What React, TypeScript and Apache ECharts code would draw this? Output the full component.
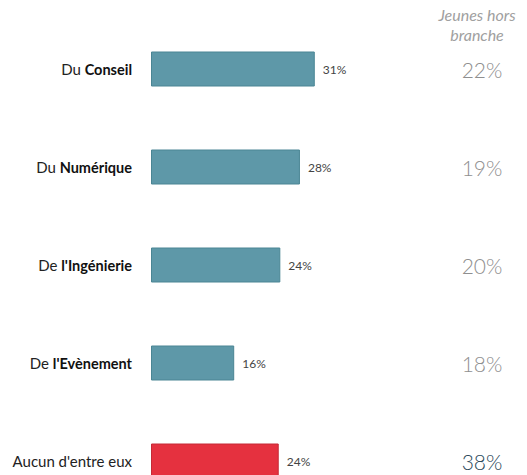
import React, { useEffect, useRef } from "react";
import * as echarts from "echarts";

const catPrefix = ["Du ", "Du ", "De ", "De ", "Aucun d'entre eux"];
const catBold = ["Conseil", "Numérique", "l'Ingénierie", "l'Evènement", ""];
const values = [30.9, 28.1, 24.4, 15.7, 24.1];
const hbValues = ["22%", "19%", "20%", "18%", "38%"];
const headerText = "Jeunes hors\nbranche";

const FONT = "Lato, 'Open Sans', sans-serif";

export default function App() {
  const ref = useRef<HTMLDivElement>(null);
  useEffect(() => {
    if (!ref.current) return;
    const chart = echarts.init(ref.current, undefined, { renderer: "svg" });
    const categories = catPrefix.map((p, i) => p + catBold[i]);
    chart.setOption({
      animation: false,
      textStyle: { fontFamily: FONT },
      grid: { left: 151, top: 20, width: 212, height: 490 },
      xAxis: { type: "value", min: 0, max: 40, show: false },
      yAxis: [
        {
          type: "category",
          inverse: true,
          data: categories,
          axisLine: { show: false },
          axisTick: { show: false },
          axisLabel: {
            margin: 19,
            formatter: (_v: string, i: number) =>
              catBold[i] ? `{n|${catPrefix[i]}}{b|${catBold[i]}}` : `{n|${catPrefix[i]}}`,
            rich: {
              n: { fontSize: 15, color: "#222", fontFamily: FONT },
              b: { fontSize: 14.5, color: "#111", fontWeight: "bold", fontFamily: FONT },
            },
          },
        },
        {
          type: "category",
          inverse: true,
          position: "right",
          data: hbValues,
          axisLine: { show: false },
          axisTick: { show: false },
          axisLabel: {
            margin: 119,
            align: "center",
            formatter: (v: string, i: number) => (i === hbValues.length - 1 ? `{h|${v}}` : `{g|${v}}`),
            rich: {
              g: { fontSize: 21, color: "#8f8f8f", fontWeight: 300, fontFamily: FONT },
              h: { fontSize: 21, color: "#2c4a5a", fontWeight: 300, fontFamily: FONT },
            },
          },
        },
      ],
      graphic: [
        {
          type: "text",
          x: 477,
          y: 4,
          style: {
            text: headerText,
            textAlign: "center",
            fontSize: 16,
            fontStyle: "italic",
            fontFamily: FONT,
            fill: "#a0a0a0",
            lineHeight: 20,
          },
        },
      ],
      series: [
        {
          type: "bar",
          yAxisIndex: 0,
          barWidth: 35,
          data: values.map((v, i) => ({
            value: v,
            itemStyle:
              i === values.length - 1
                ? { color: "#e5313f", borderColor: "#c42a36", borderWidth: 1 }
                : { color: "#5e98a8", borderColor: "#4a8594", borderWidth: 1 },
          })),
          label: {
            show: true,
            position: "right",
            distance: 8,
            fontSize: 12,
            color: "#444",
            fontFamily: FONT,
            formatter: (p: any) => `${Math.round(p.value)}%`,
          },
        },
      ],
    });
    return () => chart.dispose();
  }, []);
  return (
    <div
      ref={ref}
      style={{ position: "fixed", left: 0, top: 0, width: 527, height: 530, background: "#fff" }}
    />
  );
}
